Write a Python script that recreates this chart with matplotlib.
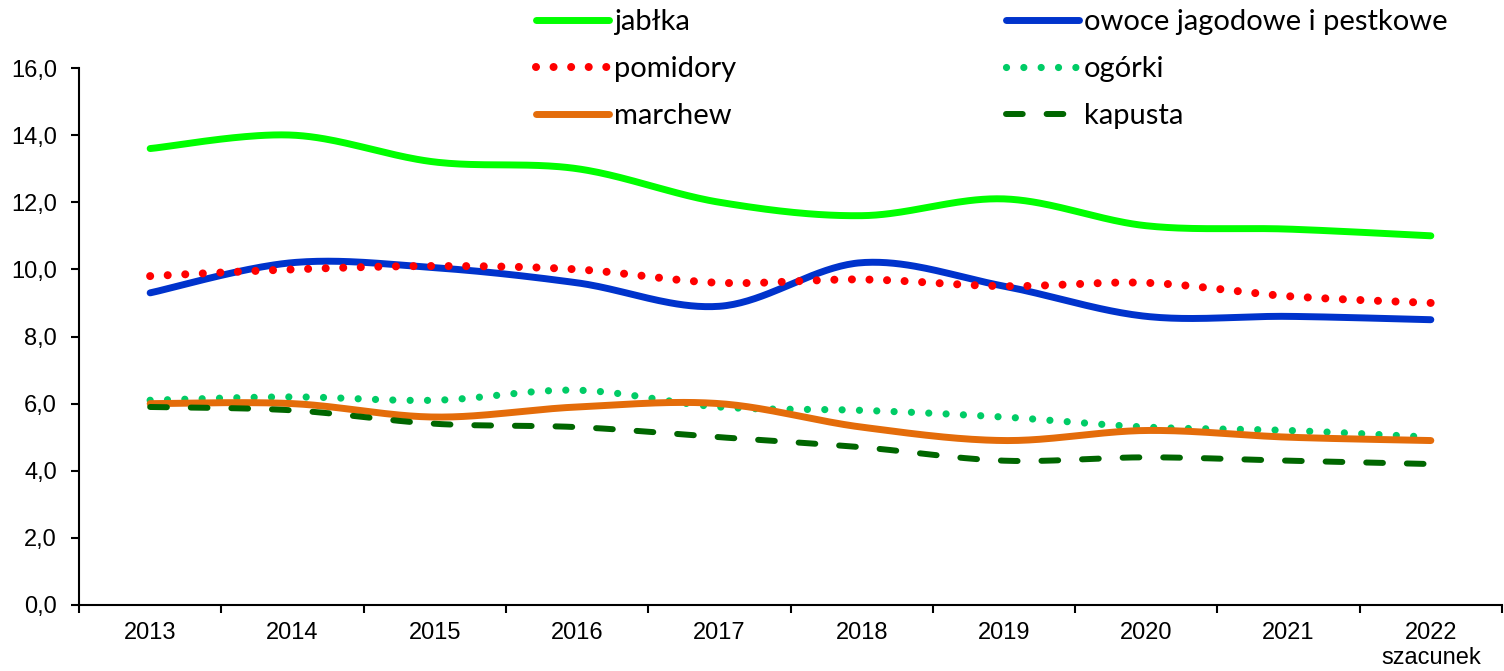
import numpy as np
import matplotlib
matplotlib.use("Agg")
import matplotlib.pyplot as plt

plt.rcParams["font.family"] = ["Liberation Sans", "DejaVu Sans"]

years = ["2013", "2014", "2015", "2016", "2017", "2018", "2019", "2020", "2021", "2022\nszacunek"]
jablka = [13.6, 14.0, 13.2, 13.0, 12.0, 11.6, 12.1, 11.3, 11.2, 11.0]
owoce = [9.3, 10.2, 10.05, 9.6, 8.9, 10.2, 9.5, 8.6, 8.6, 8.5]
pomidory = [9.8, 10.0, 10.1, 10.0, 9.6, 9.7, 9.5, 9.6, 9.2, 9.0]
ogorki = [6.1, 6.2, 6.1, 6.4, 5.9, 5.8, 5.6, 5.3, 5.2, 5.0]
marchew = [6.0, 6.0, 5.6, 5.9, 6.0, 5.3, 4.9, 5.2, 5.0, 4.9]
kapusta = [5.9, 5.8, 5.4, 5.3, 5.0, 4.7, 4.3, 4.4, 4.3, 4.2]
yticks = [0, 2, 4, 6, 8, 10, 12, 14, 16]


def smooth(y, n=40):
    # Excel-like smoothed line (Catmull-Rom Bezier through the points)
    y = np.asarray(y, float)
    x = np.arange(len(y), dtype=float)
    P = np.column_stack([x, y])
    out = []
    for i in range(len(P) - 1):
        p0 = P[i - 1] if i > 0 else P[i]
        p1 = P[i]
        p2 = P[i + 1]
        p3 = P[i + 2] if i + 2 < len(P) else P[i + 1]
        c1 = p1 + (p2 - p0) / 6.0
        c2 = p2 - (p3 - p1) / 6.0
        t = np.linspace(0, 1, n, endpoint=(i == len(P) - 2))[:, None]
        seg = ((1 - t) ** 3) * p1 + 3 * ((1 - t) ** 2) * t * c1 + 3 * (1 - t) * t ** 2 * c2 + t ** 3 * p2
        out.append(seg)
    out = np.vstack(out)
    return out[:, 0], out[:, 1]


fig = plt.figure(figsize=(15.04, 6.71), dpi=100)
ax = fig.add_axes([79 / 1504, 1 - 605 / 671, (1502 - 79) / 1504, (605 - 68) / 671])

lw = 5.0
series = [
    ("jabłka", jablka, dict(color="#00FF00", lw=lw, ls="-", solid_capstyle="round")),
    ("pomidory", pomidory, dict(color="#FF0000", lw=5.8, ls=(0, (0.001, 2.18)), dash_capstyle="round")),
    ("marchew", marchew, dict(color="#E46C0A", lw=lw, ls="-", solid_capstyle="round")),
    ("owoce jagodowe i pestkowe", owoce, dict(color="#0033CC", lw=lw, ls="-", solid_capstyle="round")),
    ("ogórki", ogorki, dict(color="#00CC66", lw=5.2, ls=(0, (0.001, 2.4)), dash_capstyle="round")),
    ("kapusta", kapusta, dict(color="#006600", lw=4.3, ls=(0, (2.8, 4.0)), dash_capstyle="round")),
]
draw_order = [0, 3, 1, 4, 2, 5]
handles = {}
for i in draw_order:
    name, vals, st = series[i]
    xs, ys = smooth(vals)
    ln, = ax.plot(xs, ys, label=name, **st)
    handles[i] = ln

ax.set_xlim(-0.5, len(years) - 0.5)
ax.set_ylim(0, 16)
ax.set_yticks(yticks)
ax.set_yticklabels([f"{v:.1f}".replace(".", ",") for v in yticks], fontsize=17)
ax.set_xticks(np.arange(len(years)))
ax.set_xticklabels(years, fontsize=17, linespacing=1.22)
ax.set_xticks(np.arange(len(years) + 1) - 0.5, minor=True)
ax.tick_params(axis="x", which="major", length=0, pad=12)
ax.tick_params(axis="x", which="minor", length=6, width=1.5, direction="out")
ax.tick_params(axis="y", length=6, width=1.5, direction="out", pad=10)
for s in ["top", "right"]:
    ax.spines[s].set_visible(False)
ax.spines["left"].set_linewidth(1.5)
ax.spines["bottom"].set_linewidth(1.5)

order = [0, 1, 2, 3, 4, 5]
leg = fig.legend([handles[i] for i in order], [series[i][0] for i in order],
                 ncol=2, loc="upper left", bbox_to_anchor=(530 / 1504, 0.995),
                 frameon=False, prop={"family": "Lato", "size": 21},
                 handlelength=2.5, handletextpad=0.17, columnspacing=9.25,
                 labelspacing=0.72, borderaxespad=0, borderpad=0.2)

fig.savefig("out.png", dpi=100)
